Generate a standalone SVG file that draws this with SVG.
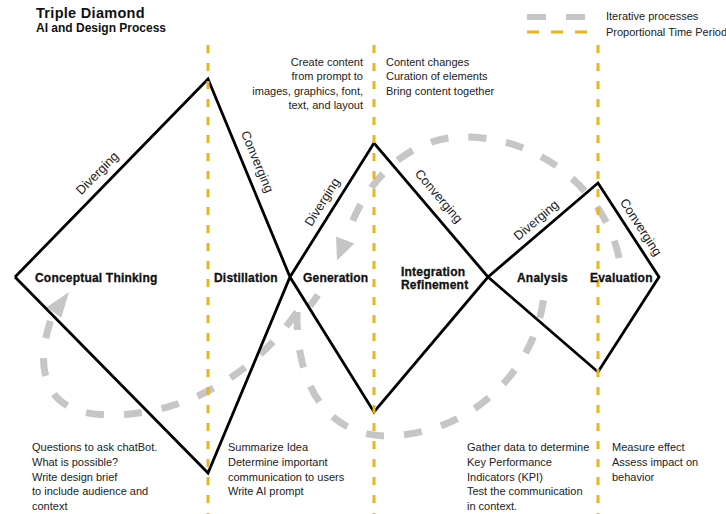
<svg xmlns="http://www.w3.org/2000/svg" width="726" height="514" viewBox="0 0 726 514">
  <style>
    .title { font-family: "Liberation Sans", Arial, sans-serif; font-weight: bold; fill: #111; }
    .stage { font-family: "Liberation Sans", Arial, sans-serif; font-weight: bold; font-size: 12px; fill: #111; stroke: #111; stroke-width: 0.3; letter-spacing: 0.2px; }
    .note { font-family: "Liberation Sans", Arial, sans-serif; font-size: 11px; fill: #222; }
    .phase { font-family: "Liberation Sans", Arial, sans-serif; font-size: 12.8px; fill: #222; text-anchor: middle; }
    .iter { fill: none; stroke: #c6c6c6; stroke-width: 7; stroke-dasharray: 18 20; }
    .iter-head { fill: #c6c6c6; }
    .time { fill: none; stroke: #e9b420; stroke-width: 3; stroke-dasharray: 8 10; }
    .diamond { fill: none; stroke: #000; stroke-width: 2.8; stroke-linejoin: miter; }
  </style>

  <rect width="726" height="514" fill="#fff"/>

  <!-- Title -->
  <g id="title">
    <text class="title" x="36" y="18" font-size="14.5" letter-spacing="0.3">Triple Diamond</text>
    <text class="title" x="36" y="31.5" font-size="12">AI and Design Process</text>
  </g>

  <!-- Legend -->
  <g id="legend">
    <line x1="527" y1="17" x2="586" y2="17" stroke="#c6c6c6" stroke-width="6" stroke-dasharray="19 20"/>
    <line x1="527" y1="32" x2="588" y2="32" stroke="#e9b420" stroke-width="3" stroke-dasharray="12 12"/>
    <text class="note" x="606" y="20">Iterative processes</text>
    <text class="note" x="606" y="36">Proportional Time Period</text>
  </g>

  <!-- Connectors: iterative loops, diamond outlines and time period markers -->
  <g id="connectors">
    <g id="iterations">
      <path class="iter" d="M619,258 C608,200 550,140 470,137 C410,134 365,180 347,236"/>
      <polygon class="iter-head" points="336,236.4 354.3,243.6 337,260.5"/>
      <path class="iter" d="M297,312 C296,390 330,436 388,436 C470,434 535,372 544,296"/>
      <path class="iter" d="M297,312 C255,372 190,414 112,415 C58,415 40,390 44,345 L51,318"/>
      <polygon class="iter-head" points="46.7,307.2 61.3,317.8 69,292"/>
      <line x1="310" y1="306" x2="318" y2="295" stroke="#c6c6c6" stroke-width="7"/>
    </g>
    <polyline id="diamonds" class="diamond" points="15,277 208,79 290,277 374,412 488,277 598,372 659,277 598,183 488,277 374,143 290,277 208,473 15,277"/>
    <g id="time-periods">
      <line class="time" x1="208" y1="45" x2="208" y2="514"/>
      <line class="time" x1="374" y1="45" x2="374" y2="514"/>
      <line class="time" x1="598" y1="45" x2="598" y2="514"/>
    </g>
  </g>

  <!-- Phase labels along the diamond edges -->
  <g id="phases">
    <text class="phase" transform="translate(97,173) rotate(-45.4)" y="4.5">Diverging</text>
    <text class="phase" transform="translate(257.5,161.5) rotate(67.5)" y="4.5">Converging</text>
    <text class="phase" transform="translate(322,202) rotate(-57.9)" y="4.5">Diverging</text>
    <text class="phase" transform="translate(439,196) rotate(49.6)" y="4.5">Converging</text>
    <text class="phase" transform="translate(536,220) rotate(-40.5)" y="4.5">Diverging</text>
    <text class="phase" transform="translate(641,227) rotate(57)" y="4.5">Converging</text>
  </g>

  <!-- Stages -->
  <g id="conceptual-thinking">
    <text class="stage" x="35" y="281.5">Conceptual Thinking</text>
    <text class="note" x="32" y="451">Questions to ask chatBot.</text>
    <text class="note" x="32" y="466">What is possible?</text>
    <text class="note" x="32" y="481">Write design brief</text>
    <text class="note" x="32" y="495">to include audience and</text>
    <text class="note" x="32" y="510">context</text>
  </g>

  <g id="distillation">
    <text class="stage" x="214" y="281.5">Distillation</text>
    <text class="note" x="228" y="451">Summarize Idea</text>
    <text class="note" x="228" y="466">Determine important</text>
    <text class="note" x="228" y="481">communication to users</text>
    <text class="note" x="228" y="495">Write AI prompt</text>
  </g>

  <g id="generation">
    <text class="stage" x="303" y="281.5">Generation</text>
    <g class="note" text-anchor="end">
      <text x="363" y="66">Create content</text>
      <text x="363" y="80">from prompt to</text>
      <text x="363" y="95">images, graphics, font,</text>
      <text x="363" y="109">text, and layout</text>
    </g>
  </g>

  <g id="integration-refinement">
    <text class="stage" x="401" y="276">Integration</text>
    <text class="stage" x="401" y="289">Refinement</text>
    <text class="note" x="386" y="66">Content changes</text>
    <text class="note" x="386" y="80">Curation of elements</text>
    <text class="note" x="386" y="95">Bring content together</text>
  </g>

  <g id="analysis">
    <text class="stage" x="517" y="281.5">Analysis</text>
    <text class="note" x="467" y="451">Gather data to determine</text>
    <text class="note" x="467" y="466">Key Performance</text>
    <text class="note" x="467" y="481">Indicators (KPI)</text>
    <text class="note" x="467" y="495">Test the communication</text>
    <text class="note" x="467" y="510">in context.</text>
  </g>

  <g id="evaluation">
    <text class="stage" x="590" y="281.5">Evaluation</text>
    <text class="note" x="612" y="451">Measure effect</text>
    <text class="note" x="612" y="466">Assess impact on</text>
    <text class="note" x="612" y="481">behavior</text>
  </g>
</svg>
